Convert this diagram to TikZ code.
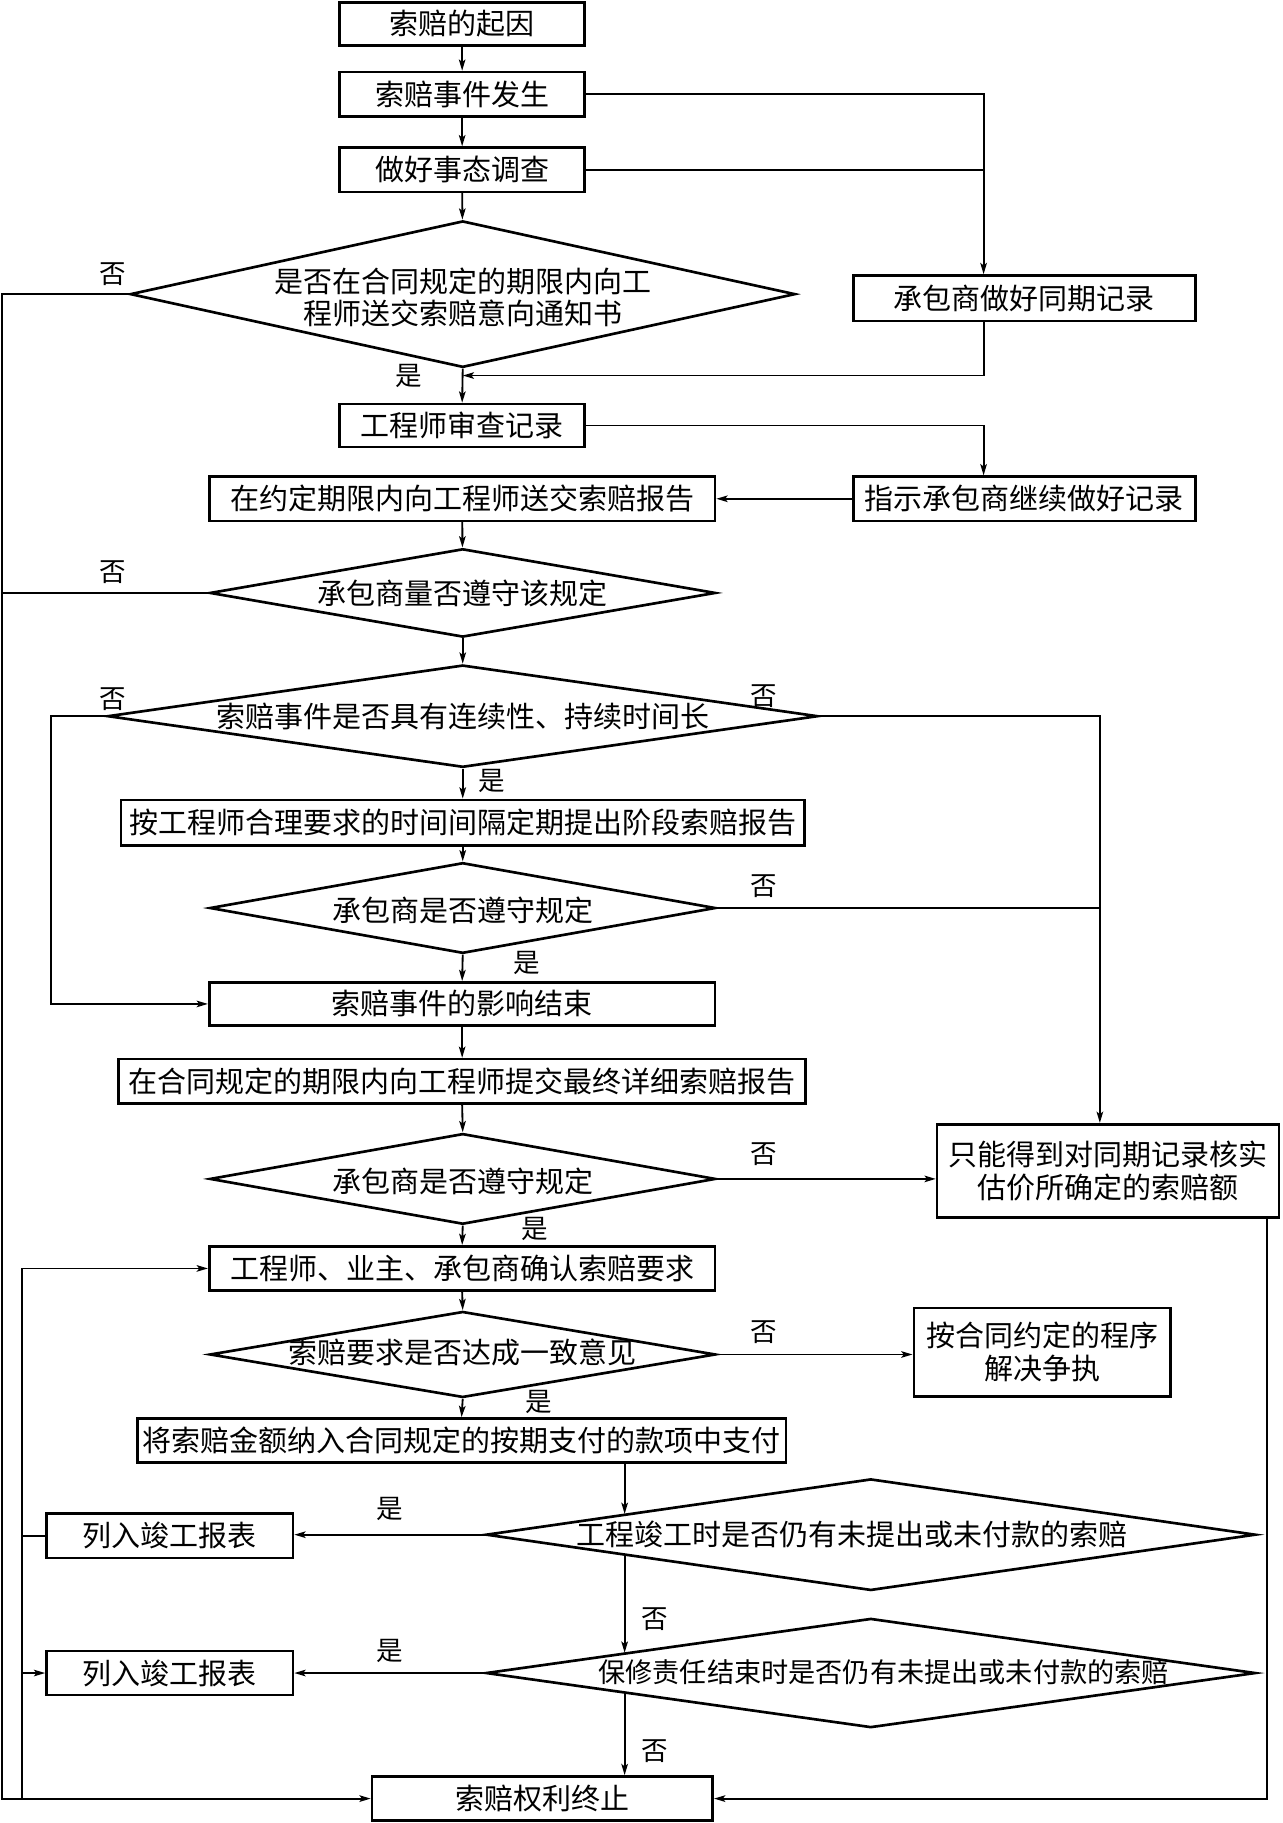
\documentclass[tikz,border=0pt]{standalone}
\usepackage{fontspec}
\newfontfamily\cjk{Noto Sans CJK SC}
\usetikzlibrary{shapes.geometric,arrows.meta,calc}
\begin{document}
\begin{tikzpicture}[x=0.02cm, y=-0.02cm,
  box/.style 2 args={draw, line width=1.3pt, inner sep=0pt, minimum width=#1*0.02cm, minimum height=#2*0.02cm, font=\cjk\fontsize{14.2pt}{15.9pt}\selectfont, align=center},
  dia/.style 2 args={draw, diamond, line width=1.3pt, inner sep=0pt, minimum width=#1*0.02cm, minimum height=#2*0.02cm},
  txt/.style={inner sep=0pt, font=\cjk\fontsize{14.2pt}{15.9pt}\selectfont, align=center},
  lab/.style={inner sep=0pt, font=\cjk\fontsize{13pt}{15pt}\selectfont},
  arr/.style={line width=0.9pt, -{Stealth[length=5.5pt,width=3.2pt,inset=1.2pt]}},
  ln/.style={line width=0.9pt},
]
\useasboundingbox (0,0) rectangle (1103,1568);

% column coordinates
\coordinate (colx) at (846,0);
\coordinate (colR) at (946,0);
\coordinate (colRR) at (1090,0);
\coordinate (L1) at (2,0);
\coordinate (L2) at (44,0);
\coordinate (L3) at (19,0);
\coordinate (jn) at (398,323);

% nodes
\node[box={211}{37}] (b1) at (397.5,20.5) {索赔的起因};
\node[box={211}{38}] (b2) at (397.5,81) {索赔事件发生};
\node[box={211}{38}] (b3) at (397.5,146) {做好事态调查};
\node[dia={572}{126}] (d1) at (398,253) {};
\node[txt] (t1) at (398,256) {是否在合同规定的期限内向工\\程师送交索赔意向通知书};
\node[box={294}{39}] (rec) at (881,256.5) {承包商做好同期记录};
\node[box={211}{37}] (b4) at (397.5,366) {工程师审查记录};
\node[box={294}{38}] (ind) at (881,429) {指示承包商继续做好记录};
\node[box={435}{38}] (b5) at (397.5,429) {在约定期限内向工程师送交索赔报告};
\node[dia={435}{76}] (d2) at (398,510) {};
\node[txt] (t2) at (398,510) {承包商量否遵守该规定};
\node[dia={611}{88}] (d3) at (398,616) {};
\node[txt] (t3) at (398,616) {索赔事件是否具有连续性、持续时间长};
\node[box={588}{39}] (b6) at (398,707.5) {按工程师合理要求的时间间隔定期提出阶段索赔报告};
\node[dia={435}{78}] (d4) at (398,781) {};
\node[txt] (t4) at (398,783) {承包商是否遵守规定};
\node[box={435}{37}] (b7) at (397.5,863.5) {索赔事件的影响结束};
\node[box={591}{38}] (b8) at (397.5,930) {在合同规定的期限内向工程师提交最终详细索赔报告};
\node[dia={435}{78}] (d5) at (398,1014) {};
\node[txt] (t5) at (398,1016) {承包商是否遵守规定};
\node[box={294}{80}] (only) at (953,1007) {只能得到对同期记录核实\\估价所确定的索赔额};
\node[box={435}{38}] (b9) at (397.5,1091) {工程师、业主、承包商确认索赔要求};
\node[dia={435}{74}] (d6) at (398,1165) {};
\node[txt] (t6) at (398,1163) {索赔要求是否达成一致意见};
\node[box={221}{76}] (disp) at (896.5,1163) {按合同约定的程序\\解决争执};
\node[box={558}{38}] (b10) at (397,1239) {将索赔金额纳入合同规定的按期支付的款项中支付};
\node[dia={662}{96}] (d7) at (749,1320) {};
\node[txt] (t7) at (733,1320) {工程竣工时是否仍有未提出或未付款的索赔};
\node[box={212}{38}] (ls1) at (146,1321) {列入竣工报表};
\node[dia={662}{94}] (d8) at (749,1439) {};
\node[txt, font=\cjk\fontsize{13.3pt}{15pt}\selectfont] (t8) at (760,1438) {保修责任结束时是否仍有未提出或未付款的索赔};
\node[box={212}{38}] (ls2) at (146,1439) {列入竣工报表};
\node[box={293}{38}] (end) at (466.5,1547) {索赔权利终止};

\coordinate (p7in) at ($(d7.west)!0.3625!(d7.north)$);
\coordinate (p7out) at ($(d7.west)!0.3625!(d7.south)$);
\coordinate (p8in) at ($(d8.west)!0.3625!(d8.north)$);
\coordinate (p8out) at ($(d8.west)!0.3625!(d8.south)$);

% connectors
\draw[arr] (b1) -- (b2);
\draw[arr] (b2) -- (b3);
\draw[arr] (b3) -- (d1);
\draw[arr] (b2.east) -| (rec.north -| colx);
\draw[ln] (b3.east) -- (b3.east -| colx);
\draw[arr] (d1.west) -| (end.west -| L1) -- (end.west);
\draw[arr] (rec.south -| colx) |- (jn);
\draw[arr] (d1.south) -- (b4.north);
\draw[arr] (b4.east) -| (ind.north -| colx);
\draw[arr] (ind.west) -- (b5.east);
\draw[arr] (b5) -- (d2);
\draw[ln] (d2.west) -- (d2.west -| L1);
\draw[arr] (d2.south) -- (d3.north);
\draw[arr] (d3.west) -| (b7.west -| L2) -- (b7.west);
\draw[arr] (d3.east) -| (only.north -| colR);
\draw[arr] (d3.south) -- (b6.north);
\draw[arr] (b6.south) -- (d4.north);
\draw[ln] (d4.east) -- (d4.east -| colR);
\draw[arr] (d4.south) -- (b7.north);
\draw[arr] (b7) -- (b8);
\draw[arr] (b8.south) -- (d5.north);
\draw[arr] (d5.east) -- (d5.east -| only.west);
\draw[arr] (d5.south) -- (b9.north);
\draw[arr] (only.south -| colRR) |- (end.east);
\draw[arr] (b9.south) -- (d6.north);
\draw[arr] (d6.east) -- (d6.east -| disp.west);
\draw[arr] (d6.south) -- (b10.north);
\draw[arr] (b10.south -| p7in) -- (p7in);
\draw[arr] (d7.west) -- (d7.west -| ls1.east);
\draw[ln] (ls1.west) -- (ls1.west -| L3);
\draw[arr] (p7out) -- (p8in);
\draw[arr] (d8.west) -- (ls2.east);
\draw[arr] (end.west -| L3) |- (b9.west);
\draw[arr] (ls2.west -| L3) -- (ls2.west);
\draw[arr] (p8out) -- (end.north -| p8out);

% labels
\node[lab] (n1) at (97,236) {否};
\node[lab] (n2) at (352,323) {是};
\node[lab] (n3) at (97,492) {否};
\node[lab] (n4) at (97,601) {否};
\node[lab] (n5) at (657,599) {否};
\node[lab] (n6) at (423,672) {是};
\node[lab] (n7) at (657,762) {否};
\node[lab] (n8) at (453,828) {是};
\node[lab] (n9) at (657,993) {否};
\node[lab] (n10) at (460,1057) {是};
\node[lab] (n11) at (657,1146) {否};
\node[lab] (n12) at (463,1206) {是};
\node[lab] (n13) at (335,1298) {是};
\node[lab] (n14) at (563,1393) {否};
\node[lab] (n15) at (335,1420) {是};
\node[lab] (n16) at (563,1506) {否};
\end{tikzpicture}
\end{document}
